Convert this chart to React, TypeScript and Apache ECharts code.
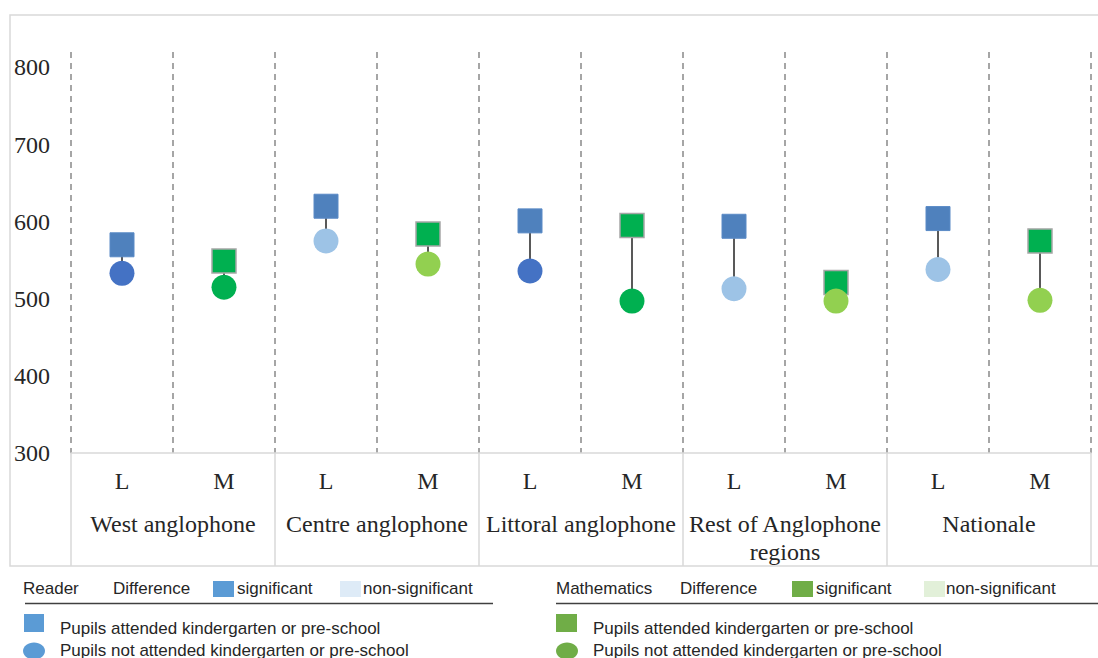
import React, { useEffect, useRef } from "react";
import * as echarts from "echarts";

const subjects = ["L", "M", "L", "M", "L", "M", "L", "M", "L", "M"];
const groups = [
  "West anglophone",
  "Centre anglophone",
  "Littoral anglophone",
  "Rest of Anglophone\nregions",
  "Nationale",
];
const attended = [570, 549, 620, 584, 601, 595, 594, 521, 604, 575];
const notAttended = [533, 515, 575, 545, 536, 497, 513, 497, 538, 498];
const significant = [true, true, false, false, true, true, false, false, false, false];
const yTicks = [300, 400, 500, 600, 700, 800];

const SERIF = "Liberation Serif";
const SANS = "'Liberation Sans', Arial, sans-serif";
const TXT = "#262626";

function legendText(text: string, x: number, y: number) {
  return {
    type: "text",
    x,
    y,
    style: { text, fill: TXT, font: `17px ${SANS}`, verticalAlign: "middle", align: "left" },
  };
}

export default function App() {
  const ref = useRef<HTMLDivElement>(null);
  useEffect(() => {
    if (!ref.current) return;
    const chart = echarts.init(ref.current, undefined, { renderer: "svg" });
    const isMath = (i: number) => subjects[i] === "M";
    const squareData = attended.map((v, i) => ({
      value: [i, v],
      itemStyle: isMath(i)
        ? { color: "#00B050", borderColor: "#A6A6A6", borderWidth: 1.5, opacity: 1 }
        : { color: "#4F81BD", borderColor: "#5A8AC6", borderWidth: 1, opacity: 1 },
    }));
    const circleData = notAttended.map((v, i) => ({
      value: [i, v],
      itemStyle: {
        opacity: 1,
        color: isMath(i)
          ? significant[i]
            ? "#00B050"
            : "#92D050"
          : significant[i]
          ? "#4472C4"
          : "#9DC3E6",
      },
    }));
    const linkData = subjects.map((_, i) => [i, attended[i], notAttended[i]]);

    const legendY1 = 588;
    chart.setOption({
      animation: false,
      textStyle: { fontFamily: SERIF },
      grid: { left: 71, right: 7, top: 52, bottom: 205, containLabel: false },
      xAxis: [
        {
          type: "category",
          data: subjects,
          boundaryGap: true,
          position: "bottom",
          axisLine: { show: true, lineStyle: { color: "#D9D9D9", width: 1.5 } },
          axisTick: { show: false },
          axisLabel: {
            margin: 16,
            fontFamily: SERIF,
            fontSize: 24,
            color: TXT,
            interval: 0,
          },
          splitLine: {
            show: true,
            interval: 0,
            lineStyle: { color: "#A6A6A6", type: [6, 5], width: 2 },
          },
        },
        {
          type: "category",
          data: groups,
          boundaryGap: true,
          position: "bottom",
          axisLine: { show: false },
          axisTick: {
            show: true,
            interval: 0,
            length: 113,
            lineStyle: { color: "#D9D9D9", width: 1.5 },
          },
          axisLabel: {
            margin: 57,
            fontFamily: SERIF,
            fontSize: 24,
            lineHeight: 28,
            color: TXT,
            interval: 0,
          },
          splitLine: { show: false },
        },
      ],
      yAxis: {
        type: "value",
        min: 300,
        max: 820,
        interval: 100,
        axisLine: { show: false },
        axisTick: { show: false },
        splitLine: { show: false },
        axisLabel: {
          margin: 21,
          fontFamily: SERIF,
          fontSize: 24,
          color: TXT,
          showMaxLabel: false,
          formatter: (v: number) => (yTicks.includes(v) ? String(v) : ""),
        },
      },
      series: [
        {
          type: "custom",
          name: "link",
          data: linkData,
          encode: { x: 0, y: [1, 2] },
          z: 1,
          renderItem: (params: any, api: any) => {
            const p1 = api.coord([api.value(0), api.value(1)]);
            const p2 = api.coord([api.value(0), api.value(2)]);
            return {
              type: "line",
              shape: { x1: p1[0], y1: p1[1], x2: p2[0], y2: p2[1] },
              style: { stroke: "#595959", lineWidth: 2 },
            };
          },
        },
        {
          type: "scatter",
          name: "Pupils attended kindergarten or pre-school",
          symbol: "rect",
          symbolSize: 24,
          itemStyle: { opacity: 1 },
          data: squareData,
          z: 2,
        },
        {
          type: "scatter",
          name: "Pupils not attended kindergarten or pre-school",
          symbol: "circle",
          symbolSize: 25,
          itemStyle: { opacity: 1 },
          data: circleData,
          z: 3,
        },
      ],
      graphic: [
        {
          type: "rect",
          shape: { x: 10, y: 15, width: 1100, height: 551 },
          style: { fill: "none", stroke: "#D9D9D9", lineWidth: 1.5 },
          silent: true,
        },
        // Reader legend
        legendText("Reader", 23, legendY1),
        legendText("Difference", 113, legendY1),
        { type: "rect", shape: { x: 213, y: 581, width: 21, height: 16 }, style: { fill: "#5B9BD5" } },
        legendText("significant", 237, legendY1),
        { type: "rect", shape: { x: 340, y: 581, width: 21, height: 16 }, style: { fill: "#DEEBF7" } },
        legendText("non-significant", 363, legendY1),
        { type: "line", shape: { x1: 25, y1: 603.5, x2: 493, y2: 603.5 }, style: { stroke: "#404040", lineWidth: 1.5 } },
        { type: "rect", shape: { x: 24, y: 614, width: 20, height: 18 }, style: { fill: "#5B9BD5" } },
        legendText("Pupils attended kindergarten or pre-school", 60, 628),
        { type: "ellipse", shape: { cx: 34, cy: 651, rx: 11, ry: 8.5 }, style: { fill: "#5B9BD5" } },
        legendText("Pupils not attended kindergarten or pre-school", 60, 650),
        // Mathematics legend
        legendText("Mathematics", 556, legendY1),
        legendText("Difference", 680, legendY1),
        { type: "rect", shape: { x: 792, y: 581, width: 21, height: 16 }, style: { fill: "#70AD47" } },
        legendText("significant", 816, legendY1),
        { type: "rect", shape: { x: 924, y: 581, width: 21, height: 16 }, style: { fill: "#E2F0D9" } },
        legendText("non-significant", 946, legendY1),
        { type: "line", shape: { x1: 556, y1: 603.5, x2: 1098, y2: 603.5 }, style: { stroke: "#404040", lineWidth: 1.5 } },
        { type: "rect", shape: { x: 556, y: 614, width: 21, height: 18 }, style: { fill: "#70AD47" } },
        legendText("Pupils attended kindergarten or pre-school", 593, 628),
        { type: "ellipse", shape: { cx: 567, cy: 651, rx: 11, ry: 8.5 }, style: { fill: "#70AD47" } },
        legendText("Pupils not attended kindergarten or pre-school", 593, 650),
      ],
    });
    return () => chart.dispose();
  }, []);
  return (
    <div
      ref={ref}
      style={{ position: "fixed", left: 0, top: 0, width: 1098, height: 658, background: "#fff" }}
    />
  );
}
